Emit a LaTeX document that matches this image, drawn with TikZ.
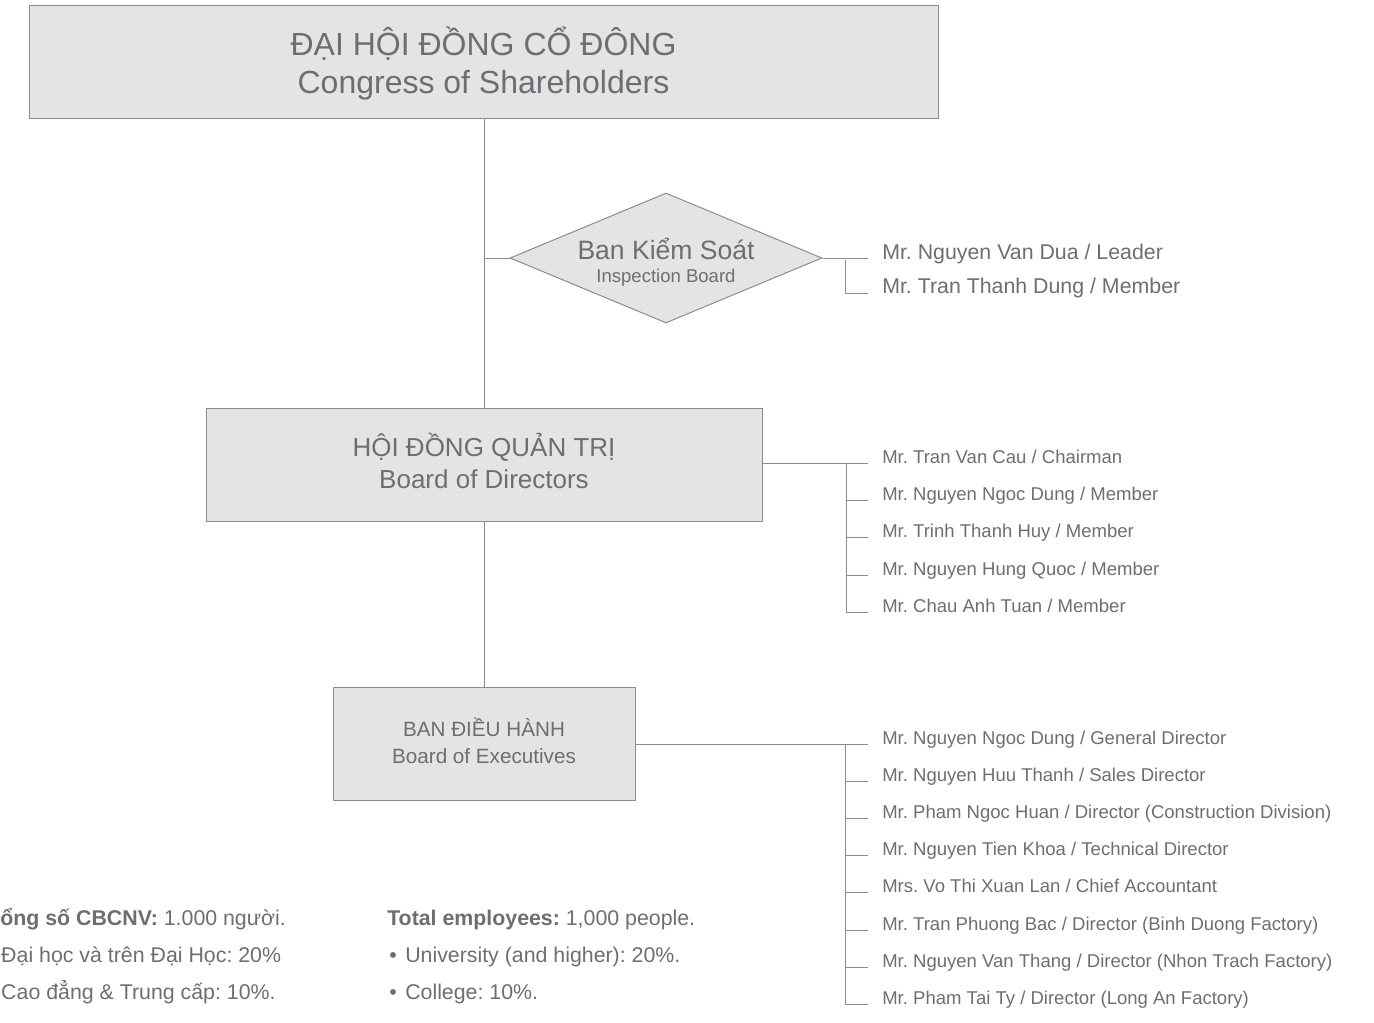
\documentclass[tikz,border=0pt]{standalone}
\usepackage{fontspec}
\setmainfont{Liberation Sans}
\usetikzlibrary{shapes.geometric}
\definecolor{txt}{HTML}{6D6E71}
\definecolor{boxfill}{HTML}{E3E4E5}
\definecolor{edge}{HTML}{8C8C8C}
\newcommand\orgtitle[3]{\raisebox{#1}[\height][\depth]{\begin{tabular}{@{}c@{}}#2\\#3\end{tabular}}}
\frenchspacing
\begin{document}
\begin{tikzpicture}[x=0.75pt,y=-0.75pt,
  every node/.style={text=txt},
  orgbox/.style={draw=edge, fill=boxfill, line width=0.75pt, align=center, inner sep=0pt},
  conn/.style={draw=edge, line width=0.75pt},
  member/.style={anchor=base west, inner xsep=10.5pt, inner ysep=0pt, font=\fontsize{13.9}{16}\selectfont},
  bigmember/.style={anchor=base west, inner xsep=10.5pt, inner ysep=0pt, font=\fontsize{16}{18}\selectfont},
  stat/.style={anchor=base west, inner sep=0pt, font=\fontsize{16}{19}\selectfont}
]
\useasboundingbox (0,0) rectangle (1374,1022);

% main boxes
\node[orgbox, minimum width=681.75pt, minimum height=84.75pt, font=\fontsize{24}{28.5}\selectfont] (cong) at (483.5,61.5)
  {\orgtitle{-3pt}{ĐẠI HỘI ĐỒNG CỔ ĐÔNG}{Congress of Shareholders}};
\node[orgbox, minimum width=417pt, minimum height=84.75pt, font=\fontsize{19.5}{24}\selectfont] (board) at (484,464.5)
  {\orgtitle{-0.75pt}{HỘI ĐỒNG QUẢN TRỊ}{Board of Directors}};
\node[orgbox, minimum width=226.5pt, minimum height=84.75pt, font=\fontsize{15.5}{20.25}\selectfont] (exec) at (484,743.5)
  {\orgtitle{-0.75pt}{BAN ĐIỀU HÀNH}{Board of Executives}};

% inspection board diamond
\node[draw=edge, fill=boxfill, line width=0.75pt, diamond, aspect=2.4, minimum width=234pt, minimum height=97.5pt, inner sep=0pt] (insp) at (666,258) {};
\node[anchor=base, inner sep=0pt, font=\fontsize{19.9}{22}\selectfont] (inspvi) at (666,259.5) {Ban Kiểm Soát};
\node[anchor=base, inner sep=0pt, font=\fontsize{13.9}{16}\selectfont] (inspen) at (666,282) {Inspection Board};

% main spine
\draw[conn] (cong.south -| board.north) -- (board.north);
\draw[conn] (board.south) -- (exec.north);
\draw[conn] (insp.west) -- (insp.west -| board.north);

% inspection members
\node[bigmember] (i1) at (868,259.5) {Mr. Nguyen Van Dua / Leader};
\node[bigmember] (i2) at (868,293.5) {Mr. Tran Thanh Dung / Member};
\coordinate (ib) at (845,259.5);
\draw[conn] (insp.east) -- (insp.east -| i1.base west);
\draw[conn] (ib) |- (i2.base west);

% board members
\node[member] (d1) at (868,463.5) {Mr. Tran Van Cau / Chairman};
\node[member] (d2) at (868,500.7) {Mr. Nguyen Ngoc Dung / Member};
\node[member] (d3) at (868,537.9) {Mr. Trinh Thanh Huy / Member};
\node[member] (d4) at (868,575.1) {Mr. Nguyen Hung Quoc / Member};
\node[member] (d5) at (868,612.3) {Mr. Chau Anh Tuan / Member};
\coordinate (db) at (846,463.5);
\draw[conn] (d1.base west -| board.east) -- (d1.base west);
\draw[conn] (db) |- (d5.base west);
\foreach \m in {d2,d3,d4}{\draw[conn] (db |- \m.base west) -- (\m.base west);}

% executive members
\node[member] (e1) at (868,744) {Mr. Nguyen Ngoc Dung / General Director};
\node[member] (e2) at (868,781.2) {Mr. Nguyen Huu Thanh / Sales Director};
\node[member] (e3) at (868,818.4) {Mr. Pham Ngoc Huan / Director (Construction Division)};
\node[member] (e4) at (868,855.6) {Mr. Nguyen Tien Khoa / Technical Director};
\node[member] (e5) at (868,892.8) {Mrs. Vo Thi Xuan Lan / Chief Accountant};
\node[member] (e6) at (868,930) {Mr. Tran Phuong Bac / Director (Binh Duong Factory)};
\node[member] (e7) at (868,967.2) {Mr. Nguyen Van Thang / Director (Nhon Trach Factory)};
\node[member] (e8) at (868,1004.4) {Mr. Pham Tai Ty / Director (Long An Factory)};
\coordinate (eb) at (845,744);
\draw[conn] (e1.base west -| exec.east) -- (e1.base west);
\draw[conn] (eb) |- (e8.base west);
\foreach \m in {e2,e3,e4,e5,e6,e7}{\draw[conn] (eb |- \m.base west) -- (\m.base west);}

% staff statistics
\node[stat] (vt) at (-13,925) {\textbf{Tổng số CBCNV:} 1.000 người.};
\node[stat] (v1) at (-17,962) {\makebox[13.5pt][l]{\hspace{1.5pt}•}Đại học và trên Đại Học: 20\%};
\node[stat] (v2) at (-17,999.5) {\makebox[13.5pt][l]{\hspace{1.5pt}•}Cao đẳng \& Trung cấp: 10\%.};
\node[stat] (et) at (387,925) {\textbf{Total employees:} 1,000 people.};
\node[stat] (e1s) at (387,962) {\makebox[13.5pt][l]{\hspace{1.5pt}•}University (and higher): 20\%.};
\node[stat] (e2s) at (387,999.5) {\makebox[13.5pt][l]{\hspace{1.5pt}•}College: 10\%.};
\end{tikzpicture}
\end{document}
